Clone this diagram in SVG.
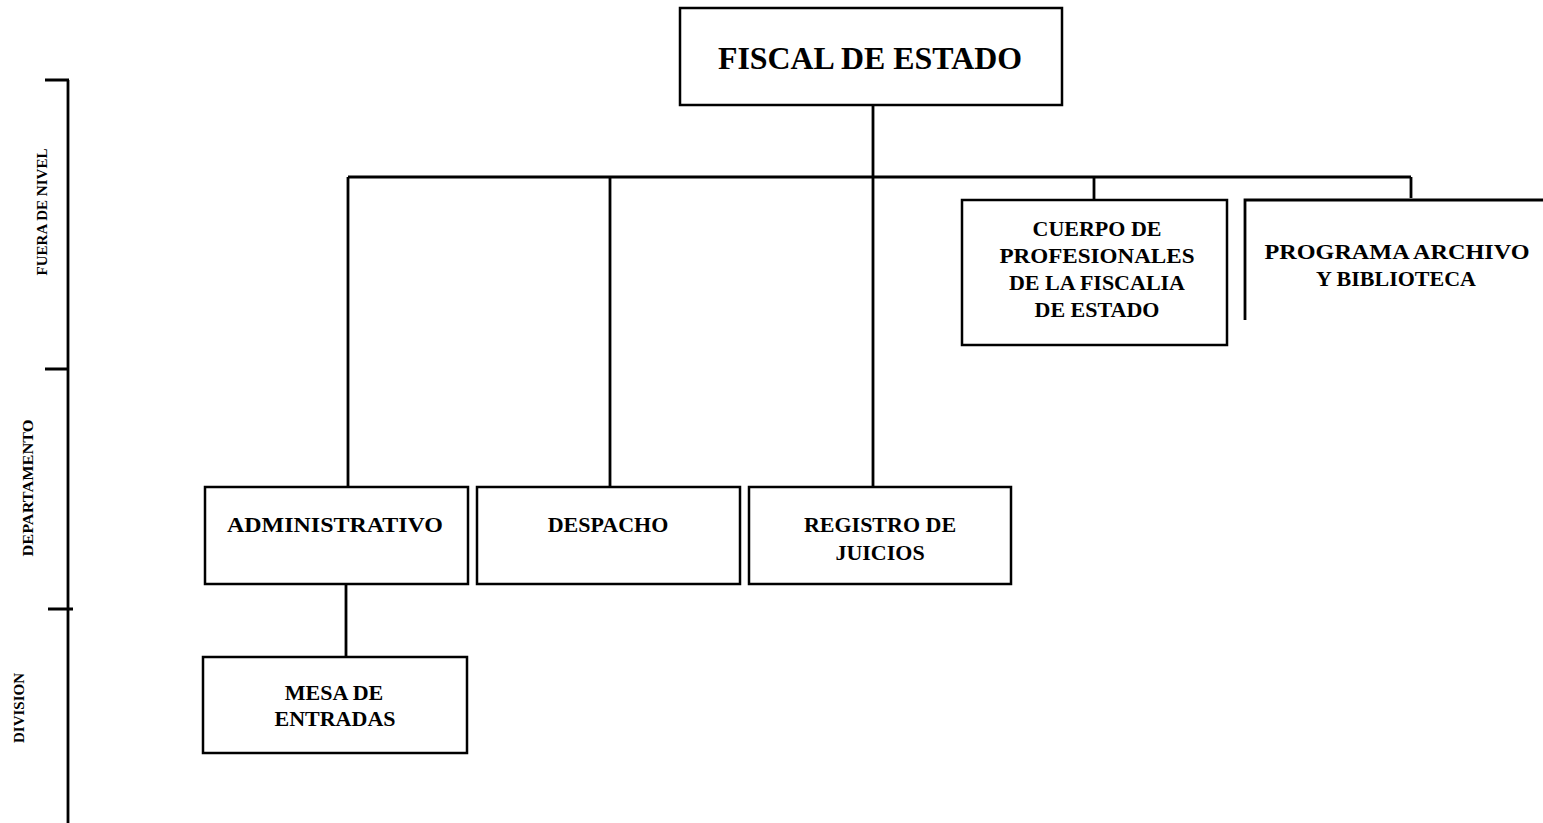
<svg xmlns="http://www.w3.org/2000/svg" width="1543" height="823" viewBox="0 0 1543 823">
<style>
.box{fill:#fff;stroke:#000;stroke-width:2.5}
.ln{stroke:#000;stroke-width:2.8;fill:none}
.t{font-family:"Liberation Serif","Times New Roman",serif;font-weight:bold;fill:#000;text-anchor:middle}
.m{font-size:22px}
.s{font-size:15px}
</style>
<rect width="1543" height="823" fill="#fff"/>
<g id="scale">
<path class="ln" d="M68 80V823M45 80H69M45 369H69M48 609H73"/>
<text class="t s" transform="translate(47,212) rotate(-90)" textLength="127" lengthAdjust="spacingAndGlyphs">FUERA DE NIVEL</text>
<text class="t s" transform="translate(33,488) rotate(-90)" textLength="137" lengthAdjust="spacingAndGlyphs">DEPARTAMENTO</text>
<text class="t s" transform="translate(24,708) rotate(-90)" textLength="70" lengthAdjust="spacingAndGlyphs">DIVISION</text>
</g>
<g id="connectors">
<path class="ln" d="M873 105V487M348 177H1411M348 177V487M610 177V487M1094 177V200M1411 177V198M346 584V657"/>
</g>
<g id="fiscal">
<rect class="box" x="680" y="8" width="382" height="97"/>
<text class="t" x="870" y="69" font-size="32" textLength="304" lengthAdjust="spacingAndGlyphs">FISCAL DE ESTADO</text>
</g>
<g id="cuerpo">
<rect class="box" x="962" y="200" width="265" height="145"/>
<text class="t m" x="1097" y="236">CUERPO DE</text>
<text class="t m" x="1097" y="263" textLength="195" lengthAdjust="spacingAndGlyphs">PROFESIONALES</text>
<text class="t m" x="1097" y="290">DE LA FISCALIA</text>
<text class="t m" x="1097" y="317">DE ESTADO</text>
</g>
<g id="programa">
<path class="ln" d="M1245 320V200H1543"/>
<text class="t m" x="1397" y="259" textLength="265" lengthAdjust="spacingAndGlyphs">PROGRAMA ARCHIVO</text>
<text class="t m" x="1396" y="286">Y BIBLIOTECA</text>
</g>
<g id="administrativo">
<rect class="box" x="205" y="487" width="263" height="97"/>
<text class="t m" x="335" y="532" textLength="216" lengthAdjust="spacingAndGlyphs">ADMINISTRATIVO</text>
</g>
<g id="despacho">
<rect class="box" x="477" y="487" width="263" height="97"/>
<text class="t m" x="608" y="532">DESPACHO</text>
</g>
<g id="registro">
<rect class="box" x="749" y="487" width="262" height="97"/>
<text class="t m" x="880" y="532">REGISTRO DE</text>
<text class="t m" x="880" y="560">JUICIOS</text>
</g>
<g id="mesa">
<rect class="box" x="203" y="657" width="264" height="96"/>
<text class="t m" x="334" y="700">MESA DE</text>
<text class="t m" x="335" y="726">ENTRADAS</text>
</g>
</svg>
